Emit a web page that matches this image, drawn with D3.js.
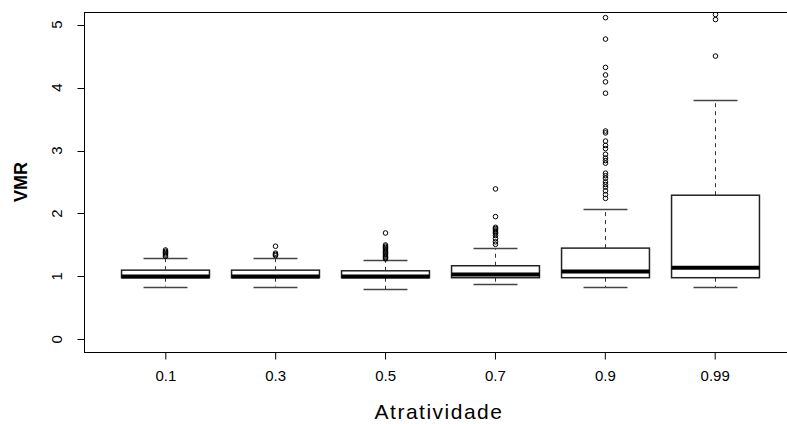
<!DOCTYPE html>
<html>
<head>
<meta charset="utf-8">
<script src="https://cdn.jsdelivr.net/npm/d3@7"></script>
<style>
  html, body { margin: 0; padding: 0; background: #fff; }
  svg { display: block; }
  text { font-family: "Liberation Sans", Arial, sans-serif; fill: #000; }
</style>
</head>
<body>
<svg id="chart" width="787" height="424"></svg>
<script>
// ---- data ----
const categories = ["0.1", "0.3", "0.5", "0.7", "0.9", "0.99"];
const whiskerLow  = [0.84, 0.84, 0.80, 0.88, 0.83, 0.83];
const q1          = [0.98, 0.98, 0.98, 0.98, 0.98, 0.98];
const median      = [1.00, 1.00, 1.00, 1.03, 1.08, 1.14];
const q3          = [1.10, 1.10, 1.09, 1.17, 1.45, 2.29];
const whiskerHigh = [1.30, 1.30, 1.26, 1.45, 2.07, 3.80];
const outliers = [
  [1.32, 1.34, 1.36, 1.38, 1.40, 1.42],
  [1.33, 1.35, 1.37, 1.48],
  [1.28, 1.30, 1.32, 1.34, 1.36, 1.38, 1.40, 1.42, 1.44, 1.46, 1.48, 1.50, 1.69],
  [1.51, 1.55, 1.60, 1.65, 1.68, 1.70, 1.72, 1.74, 1.76, 1.78, 1.95, 2.39],
  [2.24, 2.30, 2.36, 2.42, 2.46, 2.50, 2.56, 2.60, 2.64, 2.80, 2.84, 2.88, 2.94, 3.03, 3.08, 3.15, 3.28, 3.31, 3.91, 4.09, 4.20, 4.32, 4.77, 5.11],
  [4.50, 5.08, 5.16]
];
const yTicks = [0, 1, 2, 3, 4, 5];
const xTitle = "Atratividade";
const yTitle = "VMR";

// ---- layout ----
const svg = d3.select("#chart");
const pLeft = 84, pRight = 796, pTop = 12, pBottom = 352;
const tickFont = "'Liberation Sans Narrow', 'DejaVu Sans Condensed', 'Liberation Sans', sans-serif";

const x = d3.scaleLinear().domain([0.26, categories.length + 0.74]).range([pLeft, pRight]);
const y = d3.scaleLinear().domain([-0.2, 5.2]).range([pBottom, pTop]);
const bandW = x(1) - x(0);
const boxW = bandW * 0.8;
const stapleW = boxW * 0.5;

svg.append("defs").append("clipPath").attr("id", "plotclip")
  .append("rect").attr("x", pLeft).attr("y", pTop).attr("width", pRight - pLeft).attr("height", pBottom - pTop);

const plot = svg.append("g").attr("clip-path", "url(#plotclip)");

categories.forEach((c, i) => {
  const cx = Math.round(x(i + 1)) + 0.5;
  const g = plot.append("g");
  const stroke = "#222";
  g.append("line").attr("x1", cx).attr("x2", cx).attr("y1", y(q3[i])).attr("y2", y(whiskerHigh[i]))
    .attr("stroke", "#333").attr("stroke-dasharray", "4,4");
  g.append("line").attr("x1", cx).attr("x2", cx).attr("y1", y(q1[i])).attr("y2", y(whiskerLow[i]))
    .attr("stroke", "#333").attr("stroke-dasharray", "4,4");
  [whiskerHigh[i], whiskerLow[i]].forEach(v => {
    g.append("line").attr("x1", cx - stapleW / 2).attr("x2", cx + stapleW / 2)
      .attr("y1", Math.round(y(v)) + 0.5).attr("y2", Math.round(y(v)) + 0.5)
      .attr("stroke", "#444").attr("stroke-width", 1.5);
  });
  g.append("rect").attr("x", cx - boxW / 2).attr("y", y(q3[i]))
    .attr("width", boxW).attr("height", y(q1[i]) - y(q3[i]))
    .attr("fill", "#fff").attr("stroke", stroke).attr("stroke-width", 1.5);
  g.append("line").attr("x1", cx - boxW / 2).attr("x2", cx + boxW / 2)
    .attr("y1", y(median[i])).attr("y2", y(median[i]))
    .attr("stroke", "#000").attr("stroke-width", 4);
  g.selectAll("circle").data(outliers[i]).join("circle")
    .attr("cx", cx).attr("cy", d => y(d)).attr("r", 2.3)
    .attr("fill", "none").attr("stroke", "#000").attr("stroke-width", 1);
});

// frame
svg.append("rect").attr("x", pLeft + 0.5).attr("y", pTop + 0.5)
  .attr("width", pRight - pLeft).attr("height", pBottom - pTop)
  .attr("fill", "none").attr("stroke", "#000").attr("stroke-width", 1);

// y axis
const yAxis = d3.axisLeft(y).tickValues(yTicks).tickSize(7).tickPadding(4).tickFormat(d3.format("d"));
const yg = svg.append("g").attr("transform", `translate(${pLeft + 0.5},0)`).call(yAxis);
yg.select(".domain").remove();
yg.selectAll("line").attr("stroke", "#000");
yg.selectAll(".tick").attr("transform", null);
yg.selectAll(".tick line").attr("y1", d => Math.round(y(d)) + 0.5).attr("y2", d => Math.round(y(d)) + 0.5);
yg.selectAll("text")
  .attr("font-size", 15).attr("font-family", tickFont)
  .attr("text-anchor", "middle").attr("dy", null)
  .attr("x", 0).attr("y", 0)
  .attr("transform", d => `translate(-28,${y(d)}) rotate(-90)`)
  .attr("dominant-baseline", "central");

// x axis
const xAxis = d3.axisBottom(x).tickValues(d3.range(1, categories.length + 1))
  .tickFormat(d => categories[d - 1]).tickSize(7).tickPadding(11);
const xg = svg.append("g").attr("transform", `translate(0,${pBottom + 0.5})`).call(xAxis);
xg.select(".domain").remove();
xg.selectAll("line").attr("stroke", "#000");
xg.selectAll("text").attr("font-size", 15).attr("font-family", tickFont);

// titles
svg.append("text").attr("x", (pLeft + pRight) / 2 - 1).attr("y", 419)
  .attr("text-anchor", "middle").attr("font-size", 21)
  .attr("font-family", "'DejaVu Sans', sans-serif").attr("letter-spacing", 1.5).text(xTitle);
svg.append("text").attr("transform", `translate(27,${(pTop + pBottom) / 2}) rotate(-90)`)
  .attr("text-anchor", "middle").attr("font-size", 18).attr("font-weight", "bold").text(yTitle);
</script>
</body>
</html>
